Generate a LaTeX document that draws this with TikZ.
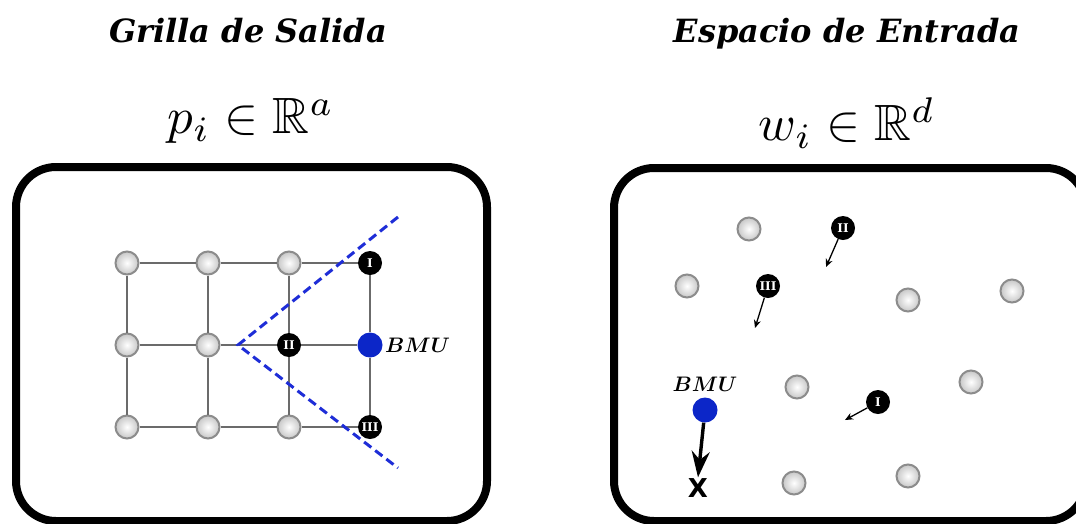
\documentclass[tikz,border=0pt]{standalone}
\usepackage{amssymb}
\usepackage{amsmath}
\usepackage{graphicx}
\usepackage{fontspec}
\newfontfamily\headfont{DejaVu Serif}
\newfontfamily\markfont{DejaVu Sans}
\usetikzlibrary{arrows.meta,positioning}
\definecolor{bmublue}{RGB}{12,38,200}
\definecolor{coneblue}{RGB}{30,45,215}
\tikzset{
  neuron/.style={circle,minimum size=23pt,inner sep=0pt,draw=black!45,line width=2pt,inner color=white,outer color=black!22},
  winner/.style={circle,minimum size=24pt,inner sep=0pt,fill=black,text=white,font=\headfont\bfseries\fontsize{12}{12}\selectfont},
  bmu/.style={circle,minimum size=25pt,inner sep=0pt,fill=bmublue},
  frame/.style={line width=8pt,rounded corners=40pt},
  title/.style={font=\headfont\bfseries\itshape\fontsize{32}{36}\selectfont,anchor=base},
  edge/.style={black!58,line width=2pt},
  cone/.style={coneblue,line width=3pt,dash pattern=on 9pt off 5pt},
  move/.style={-{Stealth[length=8pt,width=7pt]},line width=1.3pt},
  push/.style={-{Stealth[length=26pt,width=18pt]},line width=3.4pt}
}
\begin{document}
\begin{tikzpicture}[x=1pt,y=-1pt]
  \useasboundingbox (0,0) rectangle (1076,523);
  \clip (0,0) rectangle (1076,523);

  % headings
  \node[title] (t1) at (248,42) {Grilla de Salida};
  \node[title] (t2) at (847,42) {Espacio de Entrada};
  \node (s1) at (251,121) {\scalebox{5.1}{$p_i \in \mathbb{R}^a$}};
  \node (s2) at (847,123) {\scalebox{5.1}{$w_i \in \mathbb{R}^d$}};

  % the two panels
  \draw[frame] (16,167) rectangle (487,521);
  \draw[frame] (614,168) rectangle (1086,521);

  % output grid
  \draw
    (127,263) node[neuron] (g11){}
    (208,263) node[neuron] (g21){}
    (289,263) node[neuron] (g31){}
    (370,263) node[winner] (g41){I}
    (127,345) node[neuron] (g12){}
    (208,345) node[neuron] (g22){}
    (289,345) node[winner] (g32){II}
    (370,345) node[bmu] (g42){}
    (127,427) node[neuron] (g13){}
    (208,427) node[neuron] (g23){}
    (289,427) node[neuron] (g33){}
    (370,427) node[winner] (g43){III};
  \node[right=-1pt of g42] (l1) {\scalebox{2.1}{$\boldsymbol{BMU}$}};
  \begin{scope}[edge]
    \draw (g11) to (g21);
    \draw (g21) to (g31);
    \draw (g31) to (g41);
    \draw (g12) to (g22);
    \draw (g22) to (g32);
    \draw (g32) to (g42);
    \draw (g13) to (g23);
    \draw (g23) to (g33);
    \draw (g33) to (g43);
    \draw (g11) to (g12);
    \draw (g12) to (g13);
    \draw (g21) to (g22);
    \draw (g22) to (g23);
    \draw (g31) to (g32);
    \draw (g32) to (g33);
    \draw (g41) to (g42);
    \draw (g42) to (g43);
  \end{scope}

  % neighbourhood of the BMU
  \coordinate (apex) at (238,345);
  \coordinate (up) at (398,217);
  \coordinate (down) at (398,468);
  \draw[cone] (up) -- (apex) -- (down);

  % input space
  \draw
    (749,229) node[neuron] (w1){}
    (687,286) node[neuron] (w2){}
    (908,300) node[neuron] (w3){}
    (1012,291) node[neuron] (w4){}
    (797,387) node[neuron] (w5){}
    (971,382) node[neuron] (w6){}
    (794,483) node[neuron] (w7){}
    (908,476) node[neuron] (w8){}
    (843,228) node[winner] (wII){II}
    (768,286) node[winner] (wIII){III}
    (878,402) node[winner] (wI){I}
    (705,410) node[bmu] (w0){};
  \node[above=2pt of w0] (l2) {\scalebox{2.1}{$\boldsymbol{BMU}$}};
  \node[font=\markfont\bfseries\fontsize{26}{26}\selectfont,inner sep=1pt] (x) at (698,488) {X};

  \coordinate (dII) at (826,267);
  \coordinate (dIII) at (755,328);
  \coordinate (dI) at (845,420);
  \draw[move] (wII) -- (dII);
  \draw[move] (wIII) -- (dIII);
  \draw[move] (wI) -- (dI);
  \draw[push] (w0) -- (x.north);
\end{tikzpicture}
\end{document}
